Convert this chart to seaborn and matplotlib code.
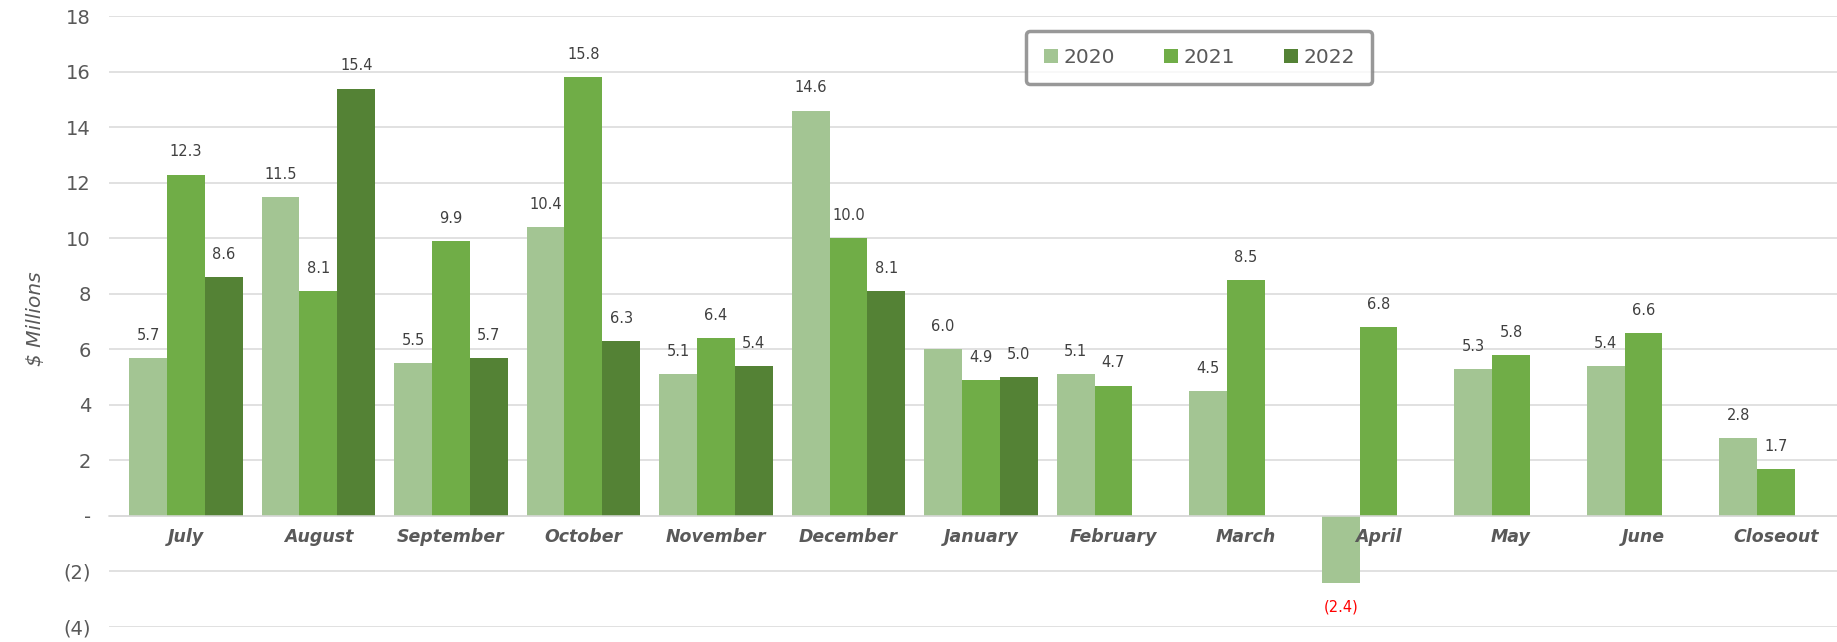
import numpy as np
import pandas as pd
import seaborn as sns
import matplotlib.pyplot as plt
from matplotlib.ticker import FuncFormatter

sns.set_theme(style="whitegrid")
plt.rcParams['font.family'] = ['DejaVu Sans']

# data
months = ['July', 'August', 'September', 'October', 'November', 'December',
          'January', 'February', 'March', 'April', 'May', 'June', 'Closeout']
years = ['2020', '2021', '2022']
fy2020 = [5.7, 11.5, 5.5, 10.4, 5.1, 14.6, 6.0, 5.1, 4.5, -2.4, 5.3, 5.4, 2.8]
fy2021 = [12.3, 8.1, 9.9, 15.8, 6.4, 10.0, 4.9, 4.7, 8.5, 6.8, 5.8, 6.6, 1.7]
fy2022 = [8.6, 15.4, 5.7, 6.3, 5.4, 8.1, 5.0, np.nan, np.nan, np.nan, np.nan, np.nan, np.nan]

colors = ['#A3C593', '#70AD47', '#548235']
grey = '#595959'

df = pd.DataFrame({'month': months * 3,
                   'year': np.repeat(years, len(months)),
                   'value': fy2020 + fy2021 + fy2022}).dropna()

fig = plt.figure(figsize=(18.37, 6.42), dpi=100)
ax = fig.add_axes([109 / 1837, 15 / 642, 1728 / 1837, 610.6 / 642])

sns.barplot(data=df, x='month', y='value', hue='year', order=months,
            hue_order=years, palette=colors, width=0.857, saturation=1,
            linewidth=0, ax=ax)

# value labels
for cont in ax.containers:
    for bar in cont:
        h = bar.get_height()
        if np.isnan(h):
            continue
        x = bar.get_x() + bar.get_width() / 2
        if h >= 0:
            ax.annotate(f'{h:.1f}', (x, h), xytext=(0, 11), textcoords='offset points',
                        ha='center', va='bottom', fontsize=10.5, color='#404040')
        else:
            ax.annotate(f'({abs(h):.1f})', (x, h), xytext=(0, -12), textcoords='offset points',
                        ha='center', va='top', fontsize=10.5, color='red')

ax.set_ylim(-4, 18)
ax.set_xlim(-0.58, 12.46)
ax.set_yticks(np.arange(-4, 19, 2))
ax.yaxis.set_major_formatter(FuncFormatter(
    lambda v, p: '-' if v == 0 else (f'({abs(v):.0f})' if v < 0 else f'{v:.0f}')))

ax.grid(axis='y', color='#d9d9d9', linewidth=1.1)
ax.grid(axis='x', visible=False)
for s in ['left', 'right', 'top']:
    ax.spines[s].set_visible(False)
ax.spines['bottom'].set_position(('data', 0))
ax.spines['bottom'].set_color('#d9d9d9')
ax.spines['bottom'].set_linewidth(1.1)
ax.xaxis.set_zorder(3)

ax.tick_params(axis='y', length=0, pad=13, labelsize=14, labelcolor=grey)
ax.tick_params(axis='x', length=0, pad=9, labelsize=12.5, labelcolor=grey)
for lab in ax.get_xticklabels():
    lab.set_fontweight('bold')
    lab.set_fontstyle('italic')

ax.set_xlabel('')
ax.set_ylabel('')
fig.text(35 / 1837, 0.503, '$ Millions', rotation=90, ha='center', va='center',
         fontsize=14.5, fontstyle='italic', color=grey)

leg = ax.legend(loc='center', bbox_to_anchor=(0.631, 0.933), ncol=3,
                frameon=True, fancybox=True, fontsize=14.5, labelcolor=grey,
                handlelength=0.7, handleheight=0.7, handletextpad=0.3,
                columnspacing=2.4, borderpad=0.85, title=None)
frame = leg.get_frame()
frame.set_edgecolor('#7f7f7f')
frame.set_linewidth(2.5)
frame.set_boxstyle('round,pad=0,rounding_size=0.2')

fig.savefig('out.png', dpi=100)
